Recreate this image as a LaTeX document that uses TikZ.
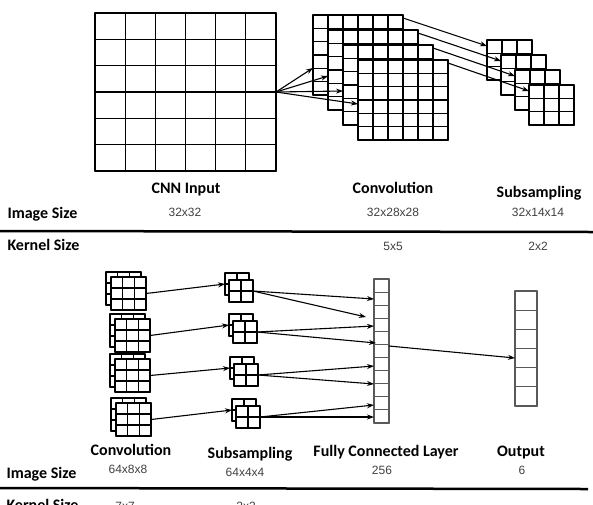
\documentclass[tikz,border=0pt]{standalone}
\usepackage{fontspec}
\setmainfont{Carlito}
\newfontfamily\dimfont{Liberation Sans}
\usetikzlibrary{calc}
\usetikzlibrary{arrows.meta}
\tikzstyle{fmap}=[draw,fill=white,line width=1.4pt,line join=round,inner sep=0pt,outer sep=0pt]
\tikzstyle{gridline}=[line width=1.1pt,line cap=round]
\tikzstyle{head}=[font=\fontsize{16}{18}\selectfont\bfseries,anchor=base]
\tikzstyle{dim}=[font=\fontsize{12}{14}\selectfont\dimfont,text=black!75,anchor=base]
\tikzstyle{arrow}=[line width=1.1pt,line cap=round,-{Stealth[length=7pt,width=5pt]}]
% feature map: [style]{name}{x}{y}{width}{height}{cols}{rows}
\newcommand{\fmap}[8][]{%
	\node[fmap,#1,minimum width=#5pt,minimum height=#6pt,anchor=north west] (#2) at (#3,#4) {};
	\foreach \k in {1,...,#7}{\draw[gridline,#1] ($(#2.north west)!\k/#7!(#2.north east)$) -- ($(#2.south west)!\k/#7!(#2.south east)$);}
	\foreach \k in {1,...,#8}{\draw[gridline,#1] ($(#2.north west)!\k/#8!(#2.south west)$) -- ($(#2.north east)!\k/#8!(#2.south east)$);}
}

\begin{document}
\begin{tikzpicture}[x=1pt,y=-1pt]
	\clip (0,0) rectangle (593,504);
	
	% upper network
	\fmap{inp}{95}{13}{181}{158}{6}{6}
	\foreach \n/\x/\y in {1/313/15,2/328/30,3/343/45,4/358/60}{\fmap{c\n}{\x}{\y}{90}{80}{6}{6}}
	\foreach \n/\x/\y in {1/487/40,2/501/55,3/515/70,4/529/85}{\fmap{s\n}{\x}{\y}{45}{40}{3}{3}}
	
	\foreach \n/\d in {1/53,2/46,3/46,4/44}
		\draw[arrow] (inp.east) -- ($(c\n.north west)+(0,\d)$);
	\foreach \n in {1,...,4}
		\draw[arrow] ($(c\n.north east)+(0,3)$) -- ($(s\n.north west)+(0,6)$);
	
	\node[head] (tin) at (186,193) {CNN Input};
	\node[head] (tconv) at (393,193) {Convolution};
	\node[head] (tsub) at (539,197) {Subsampling};
	\node[head,anchor=base west] (timg) at (4,218) {Image Size};
	\node[dim] (din) at (185,216) {32x32};
	\node[dim] (dconv) at (393,216) {32x28x28};
	\node[dim] (dsub) at (538,216) {32x14x14};
	\draw[line width=2.5pt] (0,231) -- (593,232);
	\node[head,anchor=base west] (tker) at (4,250) {Kernel Size};
	\node[dim] (kconv) at (393,250) {5x5};
	\node[dim] (ksub) at (538,250) {2x2};
	
	% lower network
	\foreach \n/\x/\y in {1/111/277,2/115/319,3/115/359,4/116/403}{
		\fmap{bcb\n}{\x-5}{\y-5}{35}{33}{3}{3}
		\fmap{bc\n}{\x}{\y}{35}{33}{3}{3}}
	\foreach \n/\x/\y in {1/229/280,2/233/321,3/234/364,4/236/406}{
		\fmap{bsb\n}{\x-4}{\y-7}{24}{22}{2}{2}
		\fmap{bs\n}{\x}{\y}{24}{22}{2}{2}}
	\fmap[draw=black!65]{fc}{374}{279}{15}{144}{1}{11}
	\fmap[draw=black!65]{out}{515}{291}{22}{115}{1}{6}
	
	\foreach \n in {1,...,4}
		\draw[arrow] (bc\n.east) -- (bsb\n.west);
	\draw[arrow] (bs1.east) -- ($(fc.north west)+(0,20)$);
	\draw[arrow] (bs1.east) -- ($(fc.north west)+(-8,38)$);
	\draw[arrow] (bs2.east) -- ($(fc.north west)+(0,47)$);
	\draw[arrow] (bs2.east) -- ($(fc.north west)+(2,64)$);
	\draw[arrow] (bs3.east) -- ($(fc.north west)+(0,87)$);
	\draw[arrow] (bs3.east) -- ($(fc.north west)+(0,105)$);
	\draw[arrow] (bs4.east) -- ($(fc.north west)+(0,126)$);
	\draw[arrow] (bs4.east) -- ($(fc.north west)+(0,138)$);
	\draw[arrow] ($(fc.north east)+(0,67)$) -- ($(out.north west)+(0,67)$);
	
	\node[head] (bconv) at (131,455) {Convolution};
	\node[head] (bsub) at (250,458) {Subsampling};
	\node[head] (bfc) at (386,456) {Fully Connected Layer};
	\node[head] (bout) at (521,456) {Output};
	\node[head,anchor=base west] (bimg) at (3,478) {Image Size};
	\node[dim] (dbconv) at (128,473) {64x8x8};
	\node[dim] (dbsub) at (245,476) {64x4x4};
	\node[dim] (dfc) at (382,474) {256};
	\node[dim] (dout) at (522,474) {6};
	\draw[line width=2.5pt] (0,488) -- (588,489);
	\node[head,anchor=base west] (bker) at (3,510) {Kernel Size};
	\node[dim] (kbconv) at (125,510) {7x7};
	\node[dim] (kbsub) at (246,510) {2x2};
\end{tikzpicture}
\end{document}
